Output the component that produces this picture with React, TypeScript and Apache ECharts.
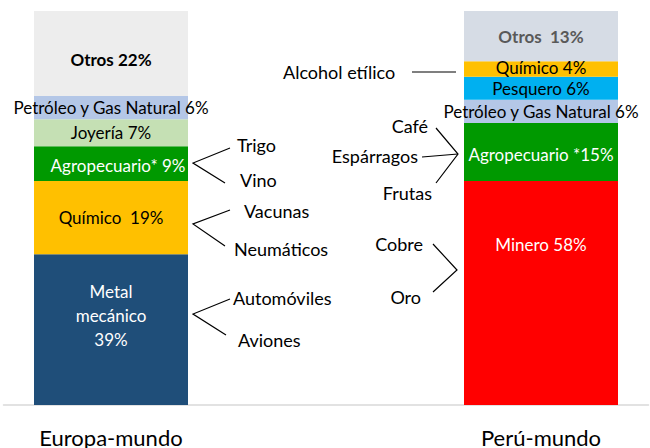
import React, { useEffect, useRef } from "react";
import * as echarts from "echarts";

// middle category is an empty spacer between the two bars
const categories = ["Europa-mundo", "", "Perú-mundo"];

// stacked bottom-up
const europaSectors = ["Metal\nmecánico\n", "Químico  ", "Agropecuario* ", "Joyería ", "Petróleo y Gas Natural ", "Otros "];
const europaShares = [39, 19, 9, 7, 6, 22];
const peruSectors = ["Minero ", "Agropecuario *", "Petróleo y Gas Natural ", "Pesquero ", "Químico ", "Otros  "];
const peruShares = [58, 15, 6, 6, 4, 13];

const europaProducts = ["Trigo", "Vino", "Vacunas", "Neumáticos", "Automóviles", "Aviones"];
const peruProducts = ["Alcohol etílico", "Café", "Espárragos", "Frutas", "Cobre", "Oro"];

const FONT = "Lato, 'Open Sans', sans-serif";

const europaStyles = [
  { color: "#1F4E79", text: "#FFFFFF", offset: [0, -14], lineHeight: 24 },
  { color: "#FFC000", text: "#000000" },
  { color: "#009900", text: "#FFFFFF", offset: [7, 2] },
  { color: "#C5E0B4", text: "#000000" },
  { color: "#B4C7E7", text: "#000000" },
  { color: "#EDEDED", text: "#000000", bold: true, offset: [0, 6] },
];
const peruStyles = [
  { color: "#FF0000", text: "#FFFFFF", position: ["50%", 64] },
  { color: "#009900", text: "#FFFFFF", offset: [0, 3] },
  { color: "#B4C7E7", text: "#000000" },
  { color: "#00B0F0", text: "#000000" },
  { color: "#FFC000", text: "#000000", offset: [0, -1] },
  { color: "#D6DCE5", text: "#595959", bold: true },
];

function item(value: number, name: string, st: any) {
  const label: any = {
    show: true,
    formatter: `${name}${value}%`,
    color: st.text,
    fontFamily: FONT,
    fontSize: 17,
    fontWeight: st.bold ? "bold" : "normal",
    lineHeight: st.lineHeight || 20,
    offset: st.offset || [0, 0],
    position: st.position || "inside",
    align: "center",
    verticalAlign: "middle",
  };
  return { value, itemStyle: { color: st.color }, label };
}

export default function App() {
  const ref = useRef<HTMLDivElement>(null);
  useEffect(() => {
    if (!ref.current) return;
    const chart = echarts.init(ref.current, null, { renderer: "svg" });
    const series = europaShares.map((v, i) => ({
      type: "bar",
      stack: "total",
      barWidth: 154,
      data: [item(v, europaSectors[i], europaStyles[i]), "-", item(peruShares[i], peruSectors[i], peruStyles[i])],
    }));

    const txt = (t: string, x: number, y: number, align = "left") => ({
      type: "text",
      x,
      y,
      z: 100,
      style: { text: t, fill: "#000", fontSize: 18, fontFamily: FONT, align, verticalAlign: "middle" },
    });
    const pl = (pts: number[][]) => ({
      type: "polyline",
      z: 100,
      shape: { points: pts },
      style: { stroke: "#000", lineWidth: 1.2, fill: null },
    });

    chart.setOption({
      animation: false,
      grid: { left: 3.5, width: 645, top: 11, bottom: 41 },
      xAxis: {
        type: "category",
        data: categories,
        axisLine: { lineStyle: { color: "#D9D9D9", width: 1.5 } },
        axisTick: { show: false },
        axisLabel: { fontFamily: FONT, fontSize: 22, color: "#000", margin: 21, interval: 0 },
      },
      yAxis: { type: "value", min: 0, max: 102, show: false, splitLine: { show: false } },
      series,
      graphic: [
        txt(europaProducts[0], 237, 145),
        txt(europaProducts[1], 240, 180),
        txt(europaProducts[2], 244, 211),
        txt(europaProducts[3], 234, 249),
        txt(europaProducts[4], 233, 298),
        txt(europaProducts[5], 238, 340),
        pl([[230, 148], [193, 163], [225, 183]]),
        pl([[230, 210], [193, 224], [225, 246]]),
        pl([[230, 299], [193, 314], [226, 335]]),
        txt(peruProducts[0], 283, 72),
        pl([[412, 72], [456, 72]]),
        txt(peruProducts[1], 428, 126, "right"),
        txt(peruProducts[2], 418, 156, "right"),
        txt(peruProducts[3], 432, 193, "right"),
        pl([[436, 128], [458, 154], [436, 183]]),
        pl([[422, 157], [458, 154]]),
        txt(peruProducts[4], 423, 244, "right"),
        txt(peruProducts[5], 421, 297, "right"),
        pl([[433, 244], [457, 270], [433, 292]]),
      ],
    });
    return () => chart.dispose();
  }, []);
  return <div ref={ref} style={{ width: 650, height: 448, position: "absolute", left: 0, top: 0 }} />;
}
